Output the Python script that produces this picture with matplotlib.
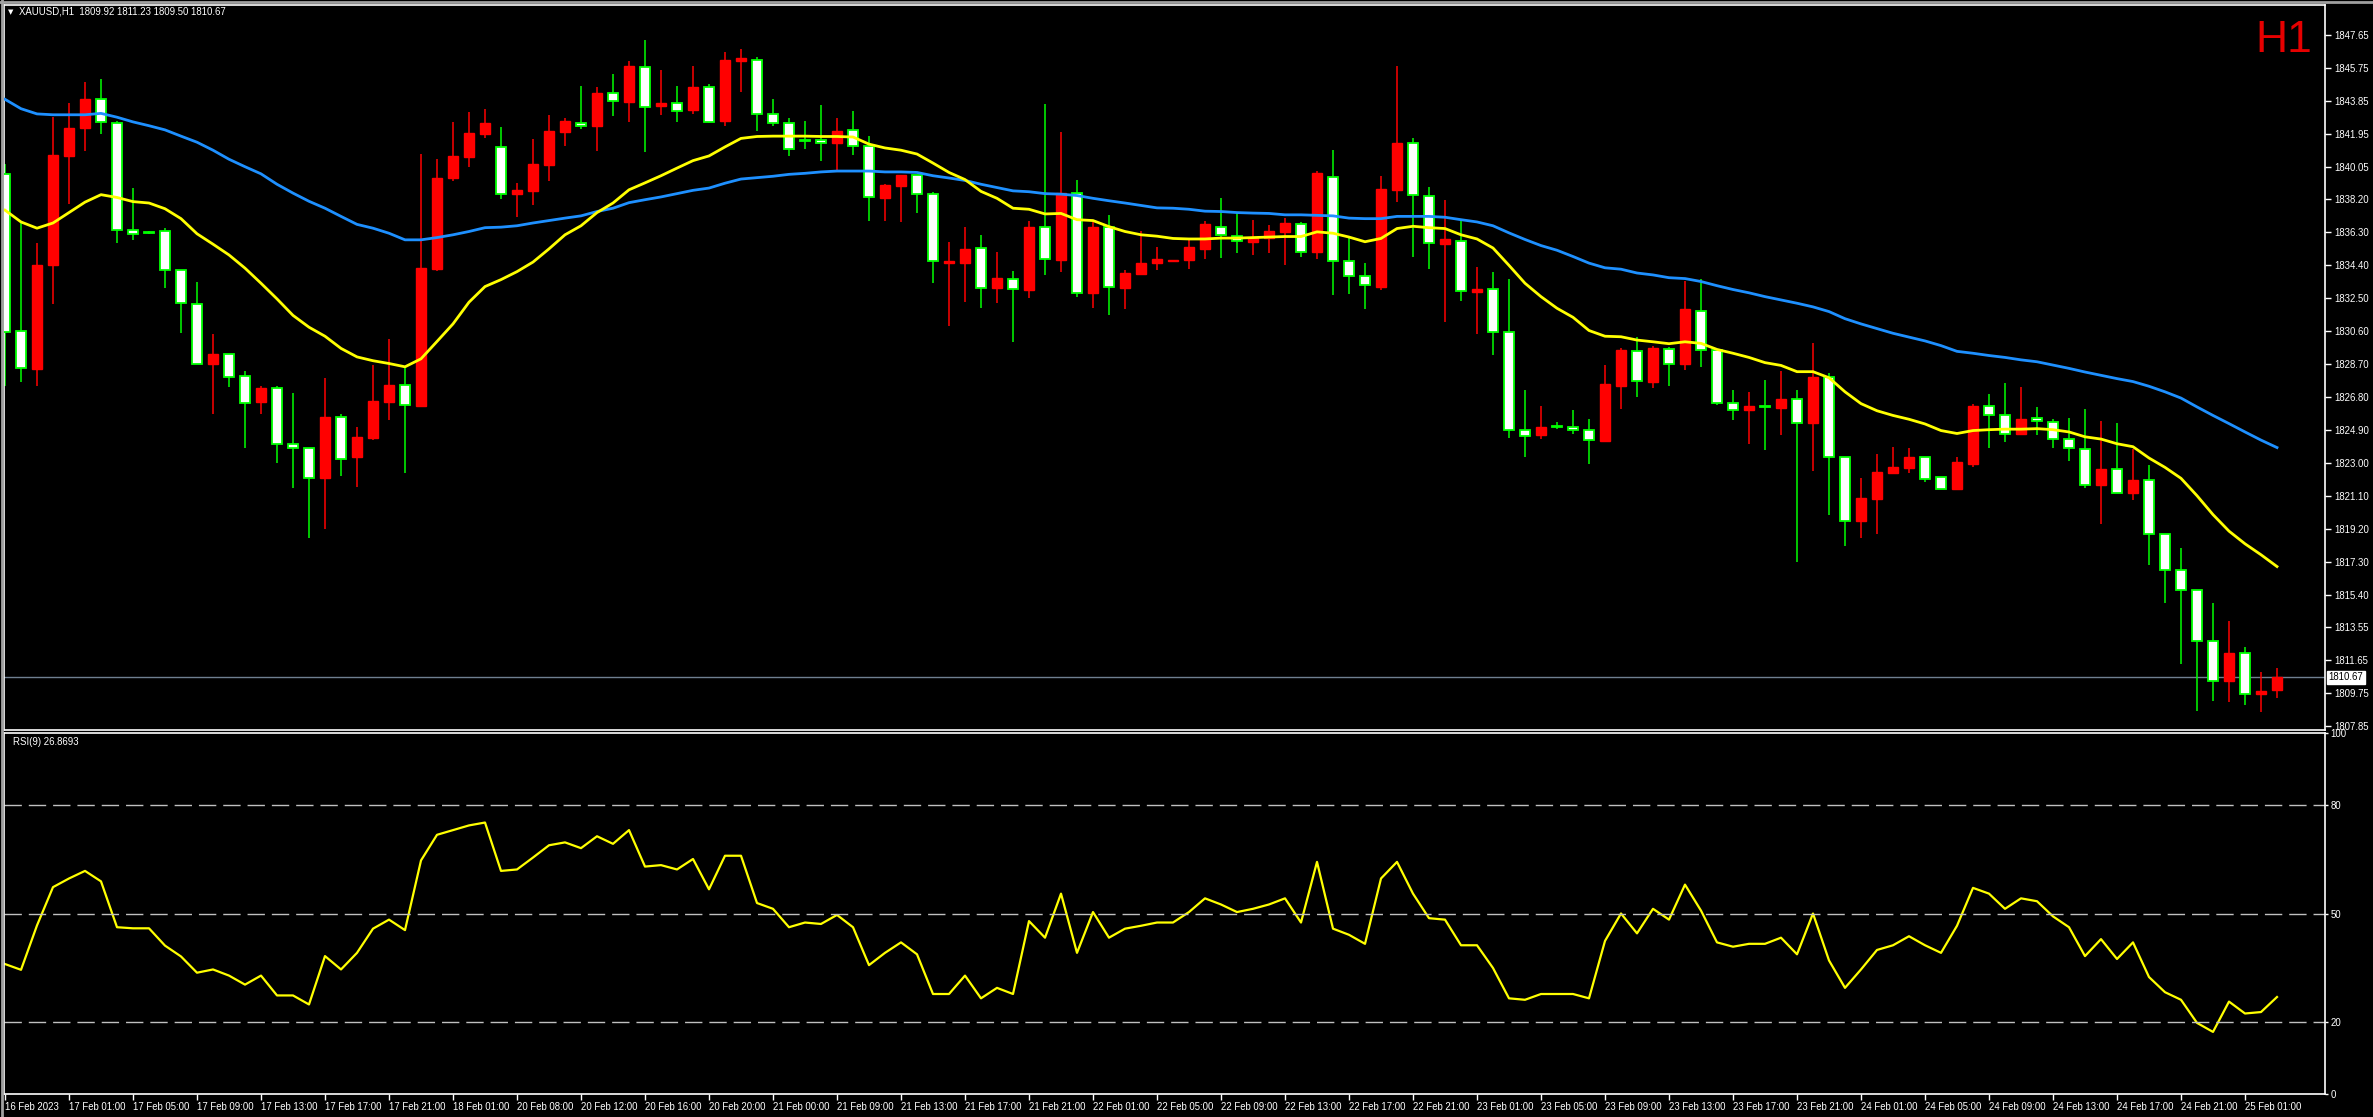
import matplotlib
matplotlib.use("Agg")
import matplotlib.pyplot as plt
import matplotlib.transforms as mtransforms
import numpy as np

# XAUUSD H1 candles (16 Feb 2023 21:00 .. 25 Feb 2023 01:00)
opens = [
    1839.66, 1830.64, 1828.44, 1834.42, 1840.69, 1842.27, 1843.95, 1842.59, 1836.40, 1836.29,
    1836.34, 1834.14, 1832.19, 1828.74, 1829.28, 1828.03, 1826.54, 1827.35, 1824.09, 1823.90,
    1822.16, 1825.64, 1823.33, 1824.44, 1826.54, 1827.49, 1826.32, 1834.20, 1839.42, 1840.64,
    1841.97, 1841.18, 1838.49, 1838.65, 1840.18, 1842.08, 1842.59, 1842.40, 1844.31, 1843.82,
    1845.83, 1843.57, 1843.74, 1843.33, 1844.66, 1842.70, 1846.15, 1846.24, 1843.08, 1842.59,
    1841.59, 1841.59, 1841.45, 1842.16, 1841.24, 1838.27, 1838.98, 1839.58, 1838.52, 1834.55,
    1834.52, 1835.37, 1833.06, 1833.63, 1833.00, 1836.62, 1834.71, 1838.57, 1832.78, 1836.62,
    1833.11, 1833.90, 1834.55, 1834.64, 1834.69, 1835.34, 1836.62, 1836.10, 1835.72, 1835.99,
    1836.29, 1836.78, 1835.18, 1839.50, 1834.63, 1833.79, 1833.17, 1838.74, 1841.43, 1838.36,
    1835.64, 1835.80, 1832.87, 1833.03, 1830.53, 1824.90, 1824.61, 1825.12, 1825.07, 1824.93,
    1824.28, 1827.43, 1829.47, 1827.70, 1829.58, 1828.71, 1831.78, 1829.52, 1826.48, 1826.07,
    1826.29, 1826.18, 1826.67, 1825.34, 1827.98, 1823.36, 1819.69, 1820.96, 1822.46, 1822.73,
    1823.33, 1822.21, 1821.53, 1822.95, 1826.29, 1825.80, 1824.66, 1825.58, 1825.39, 1824.42,
    1823.84, 1821.72, 1822.68, 1821.29, 1822.02, 1818.95, 1816.83, 1815.69, 1812.78, 1810.45,
    1812.08, 1809.69, 1809.92]
highs = [
    1840.20, 1836.94, 1835.67, 1842.92, 1843.74, 1844.93, 1845.12, 1842.73, 1838.87, 1836.34,
    1836.56, 1834.14, 1833.41, 1830.42, 1829.28, 1828.33, 1827.43, 1827.43, 1827.05, 1823.90,
    1827.92, 1825.83, 1825.09, 1828.68, 1830.15, 1828.46, 1840.80, 1840.53, 1842.62, 1843.22,
    1843.38, 1842.38, 1839.12, 1841.64, 1843.06, 1842.87, 1844.71, 1844.66, 1845.39, 1846.18,
    1847.35, 1845.64, 1844.71, 1845.86, 1844.85, 1846.67, 1846.86, 1846.40, 1843.95, 1842.87,
    1842.70, 1843.63, 1842.87, 1843.27, 1841.83, 1839.06, 1839.58, 1839.58, 1838.63, 1835.72,
    1836.59, 1836.13, 1835.15, 1834.09, 1836.97, 1843.68, 1842.05, 1839.31, 1836.89, 1837.27,
    1834.14, 1836.34, 1835.45, 1834.72, 1835.86, 1836.94, 1838.25, 1837.38, 1837.00, 1836.73,
    1837.11, 1836.89, 1839.85, 1841.02, 1835.94, 1834.52, 1839.52, 1845.88, 1841.73, 1838.90,
    1838.14, 1836.97, 1834.28, 1834.03, 1833.60, 1827.21, 1826.29, 1825.37, 1826.07, 1825.56,
    1828.68, 1829.66, 1830.26, 1829.74, 1829.69, 1833.49, 1833.63, 1829.52, 1827.21, 1827.08,
    1827.78, 1828.30, 1827.24, 1829.90, 1828.19, 1823.36, 1822.13, 1823.52, 1823.93, 1823.87,
    1823.33, 1822.21, 1823.38, 1826.40, 1826.97, 1827.59, 1827.38, 1826.24, 1825.56, 1825.58,
    1826.10, 1825.42, 1825.31, 1823.84, 1822.89, 1818.95, 1818.14, 1815.69, 1814.93, 1813.90,
    1812.40, 1810.96, 1811.23]
lows = [
    1827.43, 1827.65, 1827.43, 1832.19, 1837.92, 1840.96, 1841.97, 1835.67, 1835.86, 1836.18,
    1833.11, 1830.50, 1828.74, 1825.83, 1827.38, 1823.90, 1825.83, 1823.03, 1821.59, 1818.71,
    1819.23, 1822.27, 1821.64, 1824.36, 1825.50, 1822.46, 1826.32, 1834.09, 1839.23, 1840.07,
    1841.75, 1838.22, 1837.16, 1837.84, 1839.25, 1841.29, 1842.24, 1840.96, 1843.00, 1842.65,
    1840.91, 1843.06, 1842.65, 1843.08, 1842.59, 1842.43, 1844.39, 1842.13, 1842.43, 1840.69,
    1841.10, 1840.37, 1839.82, 1840.77, 1836.94, 1836.94, 1836.89, 1837.43, 1833.36, 1830.91,
    1832.27, 1831.94, 1832.24, 1829.99, 1832.54, 1833.84, 1834.03, 1832.59, 1831.94, 1831.56,
    1831.86, 1833.90, 1834.14, 1834.62, 1834.17, 1834.77, 1834.82, 1835.12, 1834.96, 1835.12,
    1834.42, 1834.88, 1834.74, 1832.70, 1832.76, 1831.86, 1833.00, 1838.06, 1834.85, 1834.17,
    1831.13, 1832.32, 1830.45, 1829.22, 1824.47, 1823.33, 1824.39, 1824.99, 1824.66, 1822.98,
    1824.28, 1826.13, 1826.83, 1827.32, 1827.43, 1828.38, 1828.55, 1826.37, 1825.48, 1824.12,
    1823.76, 1824.61, 1817.32, 1822.57, 1820.04, 1818.25, 1818.71, 1818.93, 1822.46, 1822.46,
    1821.94, 1821.51, 1821.53, 1822.78, 1823.90, 1824.20, 1824.63, 1824.63, 1823.90, 1823.11,
    1821.56, 1819.52, 1821.29, 1820.86, 1817.16, 1814.96, 1811.45, 1808.76, 1809.33, 1809.28,
    1809.09, 1808.68, 1809.50]
closes = [
    1830.58, 1828.49, 1834.39, 1840.75, 1842.30, 1843.95, 1842.65, 1836.40, 1836.21, 1836.24,
    1834.14, 1832.24, 1828.74, 1829.28, 1827.98, 1826.48, 1827.32, 1824.09, 1823.90, 1822.16,
    1825.64, 1823.27, 1824.50, 1826.56, 1827.49, 1826.34, 1834.23, 1839.44, 1840.67, 1842.00,
    1842.57, 1838.52, 1838.71, 1840.20, 1842.11, 1842.70, 1842.43, 1844.31, 1843.84, 1845.86,
    1843.52, 1843.74, 1843.30, 1844.66, 1842.65, 1846.21, 1846.32, 1843.08, 1842.59, 1841.10,
    1841.53, 1841.45, 1842.11, 1841.24, 1838.30, 1839.01, 1839.58, 1838.52, 1834.63, 1834.66,
    1835.31, 1833.08, 1833.65, 1833.03, 1836.59, 1834.77, 1838.57, 1832.81, 1836.59, 1833.17,
    1833.95, 1834.52, 1834.74, 1834.70, 1835.45, 1836.75, 1836.13, 1835.77, 1835.94, 1836.37,
    1836.81, 1835.18, 1839.69, 1834.63, 1833.79, 1833.25, 1838.79, 1841.43, 1838.44, 1835.69,
    1835.91, 1832.89, 1833.03, 1830.53, 1824.90, 1824.55, 1825.07, 1825.10, 1824.93, 1824.31,
    1827.54, 1829.50, 1827.73, 1829.61, 1828.74, 1831.86, 1829.52, 1826.48, 1826.07, 1826.29,
    1826.26, 1826.67, 1825.34, 1827.95, 1823.38, 1819.69, 1820.99, 1822.49, 1822.76, 1823.36,
    1822.11, 1821.51, 1823.06, 1826.29, 1825.80, 1824.66, 1825.53, 1825.42, 1824.39, 1823.90,
    1821.72, 1822.68, 1821.29, 1822.05, 1818.95, 1816.83, 1815.69, 1812.76, 1810.45, 1812.08,
    1809.69, 1809.88, 1810.67]

# moving averages
ma_fast = [
    1837.57, 1836.89, 1836.53, 1836.83, 1837.43, 1838.03, 1838.46, 1838.30, 1838.06, 1837.98,
    1837.65, 1837.08, 1836.21, 1835.61, 1834.99, 1834.23, 1833.36, 1832.46, 1831.51, 1830.83,
    1830.31, 1829.61, 1829.12, 1828.90, 1828.74, 1828.55, 1829.01, 1830.01, 1831.02, 1832.27,
    1833.17, 1833.57, 1834.03, 1834.58, 1835.34, 1836.15, 1836.67, 1837.43, 1837.98, 1838.74,
    1839.14, 1839.55, 1839.99, 1840.42, 1840.69, 1841.21, 1841.70, 1841.81, 1841.83, 1841.83,
    1841.83, 1841.81, 1841.81, 1841.78, 1841.37, 1841.15, 1841.02, 1840.80, 1840.28, 1839.74,
    1839.33, 1838.65, 1838.25, 1837.68, 1837.62, 1837.35, 1837.38, 1837.02, 1836.97, 1836.62,
    1836.34, 1836.15, 1836.07, 1835.94, 1835.91, 1835.91, 1835.96, 1835.96, 1835.99, 1836.02,
    1836.05, 1836.05, 1836.32, 1836.24, 1836.02, 1835.75, 1835.94, 1836.51, 1836.64, 1836.56,
    1836.51, 1836.15, 1835.91, 1835.39, 1834.39, 1833.36, 1832.59, 1831.92, 1831.40, 1830.64,
    1830.31, 1830.28, 1830.09, 1829.99, 1829.88, 1829.99, 1829.90, 1829.55, 1829.33, 1829.09,
    1828.79, 1828.63, 1828.27, 1828.27, 1827.92, 1827.11, 1826.43, 1826.02, 1825.75, 1825.53,
    1825.26, 1824.88, 1824.71, 1824.88, 1824.93, 1824.96, 1824.96, 1824.99, 1824.93, 1824.80,
    1824.52, 1824.39, 1824.12, 1823.95, 1823.30, 1822.76, 1822.13, 1821.13, 1820.04, 1819.09,
    1818.36, 1817.73, 1817.05]
ma_slow = [
    1843.95, 1843.41, 1843.11, 1843.06, 1843.06, 1843.06, 1843.14, 1842.92, 1842.65, 1842.43,
    1842.19, 1841.83, 1841.48, 1841.02, 1840.50, 1840.07, 1839.66, 1839.06, 1838.55, 1838.08,
    1837.68, 1837.21, 1836.75, 1836.53, 1836.24, 1835.86, 1835.86, 1835.99, 1836.15, 1836.34,
    1836.56, 1836.59, 1836.67, 1836.83, 1836.97, 1837.11, 1837.24, 1837.49, 1837.68, 1838.00,
    1838.17, 1838.33, 1838.52, 1838.71, 1838.84, 1839.12, 1839.36, 1839.44, 1839.52, 1839.63,
    1839.69, 1839.77, 1839.82, 1839.82, 1839.82, 1839.77, 1839.77, 1839.74, 1839.55, 1839.42,
    1839.28, 1839.06, 1838.87, 1838.68, 1838.63, 1838.52, 1838.49, 1838.41, 1838.25, 1838.11,
    1837.98, 1837.84, 1837.70, 1837.68, 1837.62, 1837.51, 1837.49, 1837.43, 1837.40, 1837.38,
    1837.30, 1837.30, 1837.27, 1837.24, 1837.11, 1837.08, 1837.08, 1837.21, 1837.21, 1837.21,
    1837.16, 1837.02, 1836.89, 1836.67, 1836.26, 1835.88, 1835.53, 1835.26, 1834.90, 1834.52,
    1834.25, 1834.17, 1833.95, 1833.84, 1833.68, 1833.63, 1833.46, 1833.22, 1833.00, 1832.81,
    1832.59, 1832.40, 1832.21, 1832.00, 1831.73, 1831.32, 1831.02, 1830.75, 1830.48, 1830.26,
    1830.04, 1829.77, 1829.44, 1829.33, 1829.20, 1829.09, 1828.95, 1828.84, 1828.65, 1828.46,
    1828.25, 1828.06, 1827.87, 1827.70, 1827.43, 1827.11, 1826.75, 1826.24, 1825.75, 1825.28,
    1824.80, 1824.33, 1823.90]

rsi = [
    36.0, 34.4, 46.7, 57.3, 59.7, 61.8, 58.9, 46.2, 45.9, 45.9,
    41.1, 38.1, 33.6, 34.5, 32.8, 30.3, 32.8, 27.3, 27.3, 24.8,
    38.2, 34.5, 39.1, 45.8, 48.3, 45.4, 64.7, 71.8, 73.1, 74.4,
    75.2, 61.8, 62.2, 65.5, 68.9, 69.7, 68.1, 71.4, 69.3, 73.1,
    63.0, 63.4, 62.2, 65.1, 56.7, 66.0, 66.0, 52.9, 51.3, 46.2,
    47.5, 47.1, 49.6, 46.2, 35.7, 39.1, 42.0, 38.7, 27.7, 27.7,
    32.8, 26.5, 29.4, 27.7, 47.9, 43.3, 55.5, 39.1, 50.4, 43.3,
    45.8, 46.6, 47.5, 47.5, 50.4, 54.2, 52.5, 50.4, 51.3, 52.5,
    54.2, 47.5, 64.3, 45.8, 44.1, 41.6, 59.7, 64.3, 55.5, 48.7,
    48.3, 41.2, 41.2, 34.9, 26.5, 26.1, 27.7, 27.7, 27.7, 26.5,
    42.4, 50.0, 44.5, 51.3, 48.3, 58.0, 50.8, 42.0, 40.8, 41.6,
    41.6, 43.3, 38.7, 50.0, 37.0, 29.4, 34.5, 39.9, 41.2, 43.7,
    41.2, 39.1, 46.6, 57.1, 55.5, 51.3, 54.2, 53.4, 49.2, 46.2,
    38.2, 42.9, 37.4, 42.0, 32.4, 28.2, 26.1, 19.7, 17.2, 25.6,
    22.3, 22.7, 26.87]

time_labels = [
    "16 Feb 2023", "17 Feb 01:00", "17 Feb 05:00", "17 Feb 09:00", "17 Feb 13:00",
    "17 Feb 17:00", "17 Feb 21:00", "18 Feb 01:00", "20 Feb 08:00", "20 Feb 12:00",
    "20 Feb 16:00", "20 Feb 20:00", "21 Feb 00:00", "21 Feb 09:00", "21 Feb 13:00",
    "21 Feb 17:00", "21 Feb 21:00", "22 Feb 01:00", "22 Feb 05:00", "22 Feb 09:00",
    "22 Feb 13:00", "22 Feb 17:00", "22 Feb 21:00", "23 Feb 01:00", "23 Feb 05:00",
    "23 Feb 09:00", "23 Feb 13:00", "23 Feb 17:00", "23 Feb 21:00", "24 Feb 01:00",
    "24 Feb 05:00", "24 Feb 09:00", "24 Feb 13:00", "24 Feb 17:00", "24 Feb 21:00",
    "25 Feb 01:00"]
label_step = 4

price_ticks = [1847.65, 1845.75, 1843.85, 1841.95, 1840.05, 1838.20, 1836.30, 1834.40,
               1832.50, 1830.60, 1828.70, 1826.80, 1824.90, 1823.00, 1821.10, 1819.20,
               1817.30, 1815.40, 1813.55, 1811.65, 1809.75, 1807.85]
rsi_levels = [20, 50, 80]

W, H = 2373, 1117
fig = plt.figure(figsize=(W / 100, H / 100), dpi=100, facecolor="black")
FONT = "Liberation Sans"
fs = 6.9

def px_box(x0, y0, x1, y1):
    return [x0 / W, 1 - y1 / H, (x1 - x0) / W, (y1 - y0) / H]

ax = fig.add_axes(px_box(4, 5, 2325, 730), facecolor="black")
ax2 = fig.add_axes(px_box(4, 733, 2325, 1094), facecolor="black", sharex=ax)

n = len(closes)
x = np.arange(n)
o = np.array(opens); c = np.array(closes)
h = np.array(highs); l = np.array(lows)
up = c >= o

RED = "#ff0000"
GREEN = "#00ff00"
wick_col = np.where(up, RED, GREEN)
ax.vlines(x, l, h, colors=wick_col, linewidth=1.1, zorder=2)
body_lo = np.minimum(o, c)
body_h = np.maximum(np.abs(c - o), 0.02)
ax.bar(x[up], body_h[up], bottom=body_lo[up], width=0.64, color=RED,
       edgecolor=RED, linewidth=1.0, zorder=3)
ax.bar(x[~up], body_h[~up], bottom=body_lo[~up], width=0.64, color="white",
       edgecolor=GREEN, linewidth=1.3, zorder=3)

ax.plot(x, ma_slow, color="#1e90ff", linewidth=2.0, zorder=4)
ax.plot(x, ma_fast, color="#ffff00", linewidth=2.0, zorder=4)

last = closes[-1]
ax.axhline(last, color="#6f7f90", linewidth=1.0, zorder=1)

ax.set_xlim(-1 / 16, 145)
ax.set_ylim(1807.64, 1849.38)
ax.yaxis.tick_right()
ax.set_yticks(price_ticks)
ax.set_yticklabels(["%.2f" % v for v in price_ticks], fontsize=fs, family=FONT)
ax.tick_params(axis="y", direction="out", length=4, width=1, colors="white", pad=3)
ax.tick_params(axis="x", bottom=False, labelbottom=False)
for s in ax.spines.values():
    s.set_color("white")
    s.set_linewidth(1.2)

trans = mtransforms.blended_transform_factory(ax.transAxes, ax.transData)
ax.text(1.0015, last, "%.2f" % last, transform=trans, ha="left", va="center",
        fontsize=fs, family=FONT, color="black",
        bbox=dict(boxstyle="square,pad=0.15", fc="white", ec="white"), zorder=10,
        clip_on=False)

# RSI panel
ax2.plot(x, rsi, color="#ffff00", linewidth=1.6)
for lv in rsi_levels:
    ax2.axhline(lv, color="#c0c0c0", linewidth=1.0, dashes=(12.5, 5))
ax2.set_ylim(0, 100)
ax2.yaxis.tick_right()
ax2.set_yticks([0, 20, 50, 80, 100])
ax2.set_yticklabels(["0", "20", "50", "80", "100"], fontsize=fs, family=FONT)
ax2.tick_params(axis="y", direction="out", length=2, width=1, colors="white", pad=2)
tick_pos = [i * label_step for i in range(len(time_labels))]
ax2.set_xticks(tick_pos)
ax2.set_xticklabels(time_labels, fontsize=fs, family=FONT, ha="left")
ax2.tick_params(axis="x", direction="out", length=4, width=1, colors="white", pad=2)
for s in ax2.spines.values():
    s.set_color("white")
    s.set_linewidth(1.2)

ax2.text(9 / 2321, 1 - 9 / 361, "RSI(9) 26.8693", transform=ax2.transAxes,
         ha="left", va="center", fontsize=fs, family=FONT, color="white")

fig.text(8 / W, 1 - 12 / H, "\u25bc", fontsize=5, color="white", va="center", ha="left",
         family="DejaVu Sans")
fig.text(19 / W, 1 - 12 / H, "XAUUSD,H1  1809.92 1811.23 1809.50 1810.67",
         fontsize=fs, family=FONT, color="white", va="center", ha="left")
fig.text(2312 / W, 1 - 40 / H, "H1", fontsize=32, family=FONT, color="#e60000",
         ha="right", va="center")

# window border
fig.add_artist(plt.Line2D([0, 1], [1 - 1.5 / H, 1 - 1.5 / H], transform=fig.transFigure,
                          color="#a0a0a0", linewidth=2))
fig.add_artist(plt.Line2D([1.5 / W, 1.5 / W], [0, 1], transform=fig.transFigure,
                          color="#a0a0a0", linewidth=2))

fig.savefig("out.png", dpi=100, facecolor="black")
